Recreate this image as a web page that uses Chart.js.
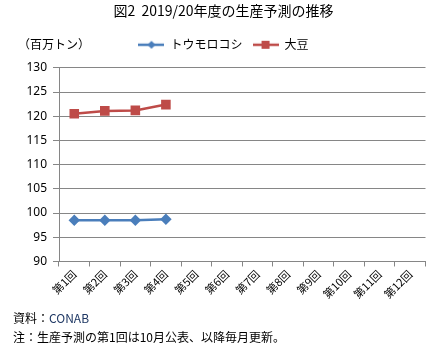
<!DOCTYPE html>
<html>
<head>
<meta charset="utf-8">
<script src="https://cdn.jsdelivr.net/npm/chart.js@4"></script>
<style>
  html, body { margin: 0; padding: 0; background: #fff; }
  #wrap { position: relative; width: 433px; height: 351px; }
  .note { position: absolute; font-family: "Noto Sans CJK JP", sans-serif; font-size: 12px; color: #000; white-space: nowrap; }
  .src { color: #1F3864; }
</style>
</head>
<body>
<div id="wrap">
  <canvas id="lineChart" width="433" height="351"></canvas>
  <div class="note" style="left:18px; top:35px;">（百万トン）</div>
  <div class="note" style="left:13px; top:309px;">資料：<span class="src">CONAB</span></div>
  <div class="note" style="left:13px; top:328px;">注：生産予測の第1回は10月公表、以降毎月更新。</div>
</div>
<script>
const categories = ['第1回', '第2回', '第3回', '第4回', '第5回', '第6回', '第7回', '第8回', '第9回', '第10回', '第11回', '第12回'];
const cornValues = [98.5, 98.5, 98.5, 98.7, null, null, null, null, null, null, null, null];
const soyValues = [120.5, 121.1, 121.2, 122.4, null, null, null, null, null, null, null, null];
const yTicks = [90, 95, 100, 105, 110, 115, 120, 125, 130];

const BLUE = '#4A7EBB';
const RED = '#BE4B48';
const GRID = '#868686';

function legendIcon(color, shape) {
    const c = document.createElement('canvas');
    c.width = 26; c.height = 10;
    const g = c.getContext('2d');
    g.strokeStyle = color; g.fillStyle = color; g.lineWidth = 2.5;
    g.beginPath(); g.moveTo(0, 5); g.lineTo(26, 5); g.stroke();
    if (shape === 'rect') {
        g.fillRect(9, 1, 8, 8);
    } else {
        g.beginPath(); g.moveTo(13, 1); g.lineTo(17, 5); g.lineTo(13, 9); g.lineTo(9, 5); g.closePath(); g.fill();
    }
    return c;
}

// extra room under the legend
const legendGap = {
    id: 'legendGap',
    beforeInit: function (chart) {
        const fit = chart.legend.fit;
        chart.legend.fit = function () {
            fit.call(this);
            this.height += 7;
        };
    }
};

document.addEventListener("DOMContentLoaded", function () {
    initLineChart();
});

function initLineChart() {
    const data = {
        labels: categories,
        datasets: [{
            label: 'トウモロコシ',
            data: cornValues,
            borderColor: BLUE,
            backgroundColor: BLUE,
            borderWidth: 2.5,
            pointStyle: 'rectRot',
            pointRadius: 4,
            fill: false,
            legendIcon: legendIcon(BLUE, 'diamond')
        }, {
            label: '大豆',
            data: soyValues,
            borderColor: RED,
            backgroundColor: RED,
            borderWidth: 2.5,
            pointStyle: 'rect',
            pointRadius: 5,
            fill: false,
            legendIcon: legendIcon(RED, 'rect')
        }]
    };

    const options = {
        responsive: false,
        animation: false,
        layout: { padding: { top: 0, left: 20, right: 6, bottom: 49 } },
        plugins: {
            title: {
                display: true,
                text: '図2  2019/20年度の生産予測の推移',
                color: '#000',
                font: { family: '"Noto Sans CJK JP"', size: 14, weight: 'normal' },
                padding: { top: 2, bottom: 10 }
            },
            legend: {
                display: true,
                labels: {
                    color: '#000',
                    font: { family: '"Noto Sans CJK JP"', size: 12 },
                    usePointStyle: true,
                    pointStyleWidth: 26,
                    padding: 10,
                    generateLabels: function (chart) {
                        return chart.data.datasets.map(function (ds, i) {
                            return {
                                text: ds.label,
                                fontColor: '#000',
                                pointStyle: ds.legendIcon,
                                datasetIndex: i,
                                hidden: false
                            };
                        });
                    }
                }
            },
            tooltip: { enabled: false }
        },
        scales: {
            x: {
                offset: true,
                grid: {
                    display: true,
                    offset: true,
                    drawOnChartArea: false,
                    color: GRID,
                    tickLength: 5
                },
                border: { color: GRID, width: 1 },
                ticks: {
                    color: '#000',
                    font: { family: '"Noto Sans CJK JP"', size: 11 },
                    minRotation: 45,
                    maxRotation: 45,
                    padding: 1,
                    autoSkip: false
                }
            },
            y: {
                min: 90,
                max: 130,
                afterBuildTicks: function (scale) {
                    scale.ticks = yTicks.map(function (v) { return { value: v }; });
                },
                afterFit: function (scale) { scale.width = 39; },
                grid: {
                    color: GRID,
                    tickLength: 6
                },
                border: { color: GRID, width: 1 },
                ticks: {
                    color: '#000',
                    font: { family: '"Noto Sans"', size: 12 },
                    padding: 6
                }
            }
        }
    };

    const ctx = document.getElementById('lineChart').getContext('2d');
    new Chart(ctx, {
        type: 'line',
        data: data,
        options: options,
        plugins: [legendGap]
    });
}
</script>
</body>
</html>
